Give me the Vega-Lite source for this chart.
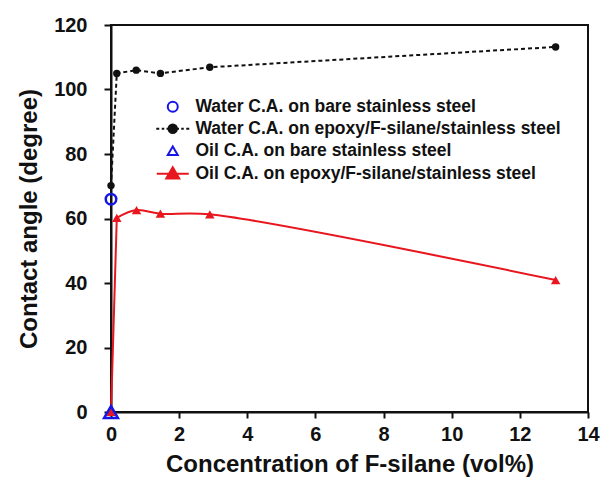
{
  "$schema": "https://vega.github.io/schema/vega-lite/v6.json",
  "width": 477,
  "height": 387,
  "autosize": "none",
  "padding": {"left": 111, "top": 25, "right": 15, "bottom": 75},
  "background": "white",
  "config": {
    "font": "Liberation Sans",
    "view": {"stroke": "#111111", "strokeWidth": 2},
    "axis": {
      "grid": false,
      "labelFlush": false,
      "domainColor": "#111111",
      "domainWidth": 2,
      "tickColor": "#111111",
      "tickWidth": 2,
      "labelFont": "Liberation Sans",
      "labelFontWeight": "bold",
      "labelFontSize": 20,
      "labelColor": "#111111",
      "titleFont": "Liberation Sans",
      "titleFontWeight": "bold",
      "titleFontSize": 24,
      "titleColor": "#111111"
    },
    "legend": {
      "title": null,
      "orient": "none",
      "legendX": 53,
      "legendY": 73,
      "padding": 0,
      "labelFont": "Liberation Sans",
      "labelFontWeight": "bold",
      "labelFontSize": 17.5,
      "labelColor": "#111111",
      "labelOffset": 14,
      "labelLimit": 600,
      "rowPadding": 3,
      "symbolSize": 100,
      "symbolStrokeWidth": 2,
      "symbolOpacity": 1
    }
  },
  "data": {
    "values": [
      {"series": "Water C.A. on epoxy/F-silane/stainless steel", "x": 0, "y": 70.2},
      {"series": "Water C.A. on epoxy/F-silane/stainless steel", "x": 0.17, "y": 105.0},
      {"series": "Water C.A. on epoxy/F-silane/stainless steel", "x": 0.74, "y": 106.0},
      {"series": "Water C.A. on epoxy/F-silane/stainless steel", "x": 1.45, "y": 105.0},
      {"series": "Water C.A. on epoxy/F-silane/stainless steel", "x": 2.9, "y": 106.9},
      {"series": "Water C.A. on epoxy/F-silane/stainless steel", "x": 13.05, "y": 113.2},
      {"series": "Oil C.A. on epoxy/F-silane/stainless steel", "x": 0, "y": 0},
      {"series": "Oil C.A. on epoxy/F-silane/stainless steel", "x": 0.17, "y": 60.2},
      {"series": "Oil C.A. on epoxy/F-silane/stainless steel", "x": 0.75, "y": 62.6},
      {"series": "Oil C.A. on epoxy/F-silane/stainless steel", "x": 1.45, "y": 61.5},
      {"series": "Oil C.A. on epoxy/F-silane/stainless steel", "x": 2.9, "y": 61.3},
      {"series": "Oil C.A. on epoxy/F-silane/stainless steel", "x": 13.05, "y": 40.9},
      {"series": "Water C.A. on bare stainless steel", "x": 0, "y": 66},
      {"series": "Oil C.A. on bare stainless steel", "x": 0, "y": 0}
    ]
  },
  "encoding": {
    "x": {
      "field": "x", "type": "quantitative",
      "scale": {"domain": [0, 14], "nice": false, "zero": false},
      "axis": {"values": [0, 2, 4, 6, 8, 10, 12, 14], "tickSize": 6, "labelPadding": 6, "titlePadding": 8, "title": "Concentration of F-silane (vol%)"}
    },
    "y": {
      "field": "y", "type": "quantitative",
      "scale": {"domain": [0, 120], "nice": false},
      "axis": {"values": [0, 20, 40, 60, 80, 100, 120], "tickSize": 7, "labelPadding": 17, "titlePadding": 12, "title": "Contact angle (degree)"}
    }
  },
  "layer": [
    {
      "transform": [{"filter": "datum.series === 'Water C.A. on epoxy/F-silane/stainless steel'"}],
      "mark": {"type": "line", "color": "#111111", "strokeWidth": 2, "strokeDash": [4, 3]}
    },
    {
      "transform": [{"filter": "datum.series === 'Oil C.A. on epoxy/F-silane/stainless steel' && datum.x <= 0.17"}],
      "mark": {"type": "line", "color": "#e8161e", "strokeWidth": 2}
    },
    {
      "transform": [{"filter": "datum.series === 'Oil C.A. on epoxy/F-silane/stainless steel' && datum.x >= 0.17"}],
      "mark": {"type": "line", "color": "#e8161e", "strokeWidth": 2, "interpolate": "catmull-rom"}
    },
    {
      "transform": [{"filter": "datum.series === 'Water C.A. on epoxy/F-silane/stainless steel'"}],
      "mark": {"type": "point", "shape": "circle", "filled": true, "color": "#111111", "size": 55, "opacity": 1}
    },
    {
      "transform": [{"filter": "datum.series === 'Oil C.A. on epoxy/F-silane/stainless steel'"}],
      "mark": {"type": "point", "shape": "triangle-up", "filled": true, "color": "#e8161e", "size": 90, "opacity": 1}
    },
    {
      "transform": [{"filter": "datum.series === 'Water C.A. on bare stainless steel'"}],
      "mark": {"type": "point", "filled": false, "strokeWidth": 2.5, "size": 110, "opacity": 1},
      "encoding": {
        "shape": {
          "field": "series", "type": "nominal",
          "scale": {
            "domain": ["Water C.A. on bare stainless steel", "Water C.A. on epoxy/F-silane/stainless steel", "Oil C.A. on bare stainless steel", "Oil C.A. on epoxy/F-silane/stainless steel"],
            "range": ["circle", "M-3.3,0H-2.7M-2.2,0H-1.7M-1.25,0H-0.8M0.8,0H1.25M1.7,0H2.2M2.7,0H3.3M-0.85,0A0.85,0.85 0 1,0 0.85,0A0.85,0.85 0 1,0 -0.85,0Z", "triangle-up", "M-3.2,0H3.2M0,-1.3L1.3,0.95L-1.3,0.95Z"]
          }
        },
        "stroke": {
          "field": "series", "type": "nominal",
          "scale": {
            "domain": ["Water C.A. on bare stainless steel", "Water C.A. on epoxy/F-silane/stainless steel", "Oil C.A. on bare stainless steel", "Oil C.A. on epoxy/F-silane/stainless steel"],
            "range": ["#1515e6", "#111111", "#1515e6", "#e8161e"]
          }
        },
        "fill": {
          "field": "series", "type": "nominal",
          "scale": {
            "domain": ["Water C.A. on bare stainless steel", "Water C.A. on epoxy/F-silane/stainless steel", "Oil C.A. on bare stainless steel", "Oil C.A. on epoxy/F-silane/stainless steel"],
            "range": ["transparent", "#111111", "transparent", "#e8161e"]
          }
        }
      }
    },
    {
      "transform": [{"filter": "datum.series === 'Oil C.A. on bare stainless steel'"}],
      "mark": {"type": "point", "filled": false, "strokeWidth": 2.5, "size": 190, "opacity": 1},
      "encoding": {
        "shape": {"field": "series", "type": "nominal"},
        "stroke": {"field": "series", "type": "nominal"},
        "fill": {"field": "series", "type": "nominal"}
      }
    }
  ]
}
